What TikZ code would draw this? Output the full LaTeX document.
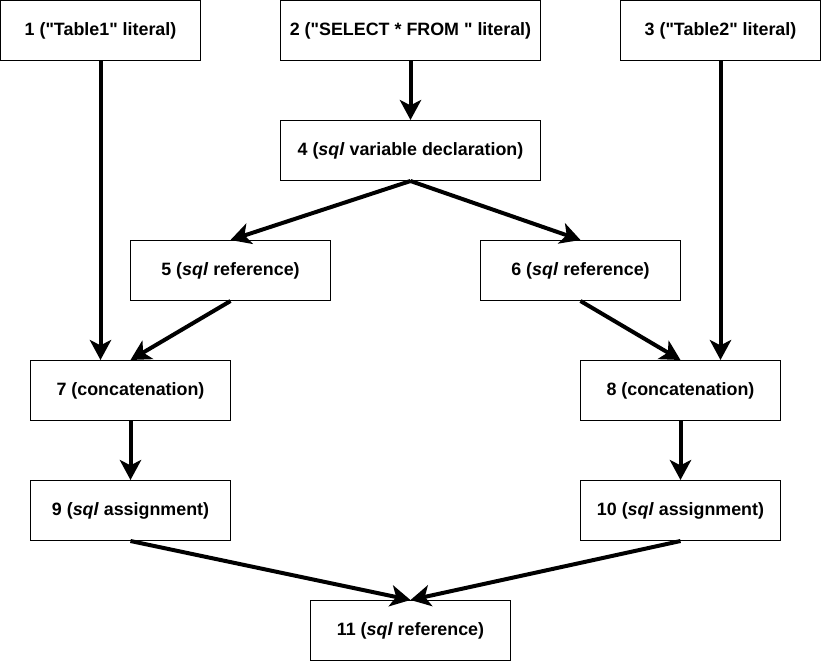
\documentclass[tikz,border=0pt]{standalone}
\usepackage{fontspec}
\setmainfont{Liberation Sans}[Ligatures=TeXOff]
\usetikzlibrary{arrows.meta}
\tikzset{
  box/.style={draw=black, line width=0.75pt, rectangle, minimum width=150pt, minimum height=45pt, inner sep=0pt, font=\fontsize{13.4pt}{15pt}\selectfont\bfseries, text=black},
  widebox/.style={box, minimum width=195pt},
  flow/.style={line width=3pt, -{Stealth[length=15pt, width=16pt, inset=4pt]}},
}
\begin{document}
\begin{tikzpicture}[x=0.75pt, y=-0.75pt]
\useasboundingbox (0,0) rectangle (822,662);
\node[box] (n1) at (100.5,30.5) {1 ("Table1" literal)};
\node[widebox] (n2) at (410.5,30.5) {2 ("SELECT * FROM " literal)};
\node[box] (n3) at (720.5,30.5) {3 ("Table2" literal)};
\node[widebox] (n4) at (410.5,150.5) {4 (\textit{sql} variable declaration)};
\node[box] (n5) at (230.5,270.5) {5 (\textit{sql} reference)};
\node[box] (n6) at (580.5,270.5) {6 (\textit{sql} reference)};
\node[box] (n7) at (130.5,390.5) {7 (concatenation)};
\node[box] (n8) at (680.5,390.5) {8 (concatenation)};
\node[box] (n9) at (130.5,510.5) {9 (\textit{sql} assignment)};
\node[box] (n10) at (680.5,510.5) {10 (\textit{sql} assignment)};
\node[box] (n11) at (410.5,630.5) {11 (\textit{sql} reference)};
\draw[flow] (n1.south) -- (n1.south |- n7.north);
\draw[flow] (n3.south) -- (n3.south |- n8.north);
\draw[flow] (n2.south) -- (n4.north);
\draw[flow] (n4.south) -- (n5.north);
\draw[flow] (n4.south) -- (n6.north);
\draw[flow] (n5.south) -- (n7.north);
\draw[flow] (n6.south) -- (n8.north);
\draw[flow] (n7.south) -- (n9.north);
\draw[flow] (n8.south) -- (n10.north);
\draw[flow] (n9.south) -- (n11.north);
\draw[flow] (n10.south) -- (n11.north);
\end{tikzpicture}
\end{document}
